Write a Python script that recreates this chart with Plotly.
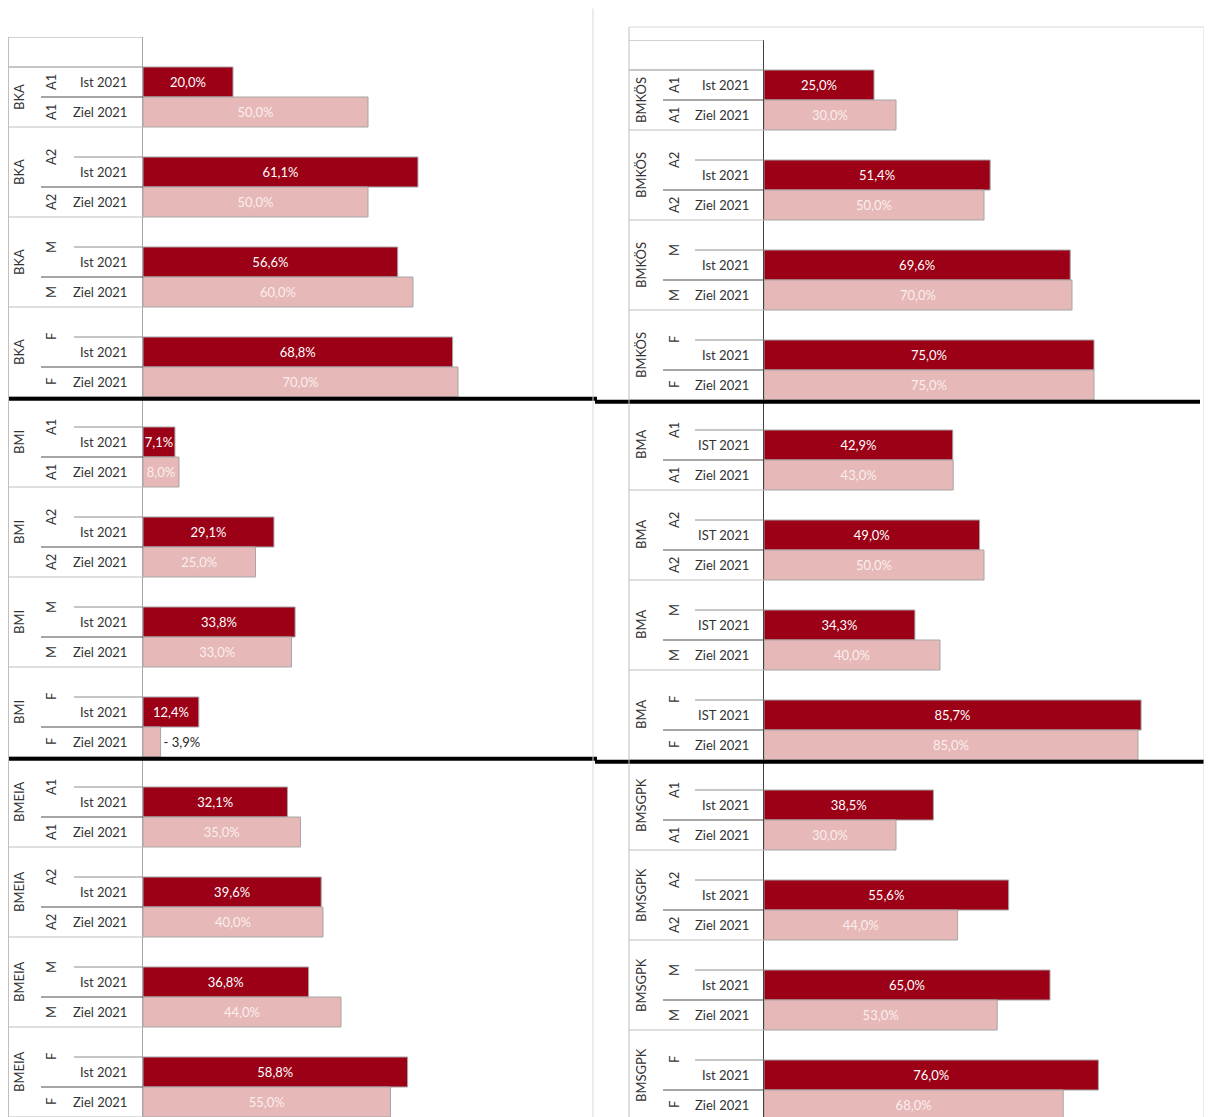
import plotly.graph_objects as go

# The page puts the figure at an 8px offset; the figure is sized to fill the rest of the window.
OFF = 8
W, H = 1212 - OFF, 1117 - OFF

# ---------------- data ----------------
levels = ["A1", "A2", "M", "F"]
ministries_left = ["BKA", "BMI", "BMEIA"]
ministries_right = ["BMKÖS", "BMA", "BMSGPK"]
ist_names_left = ["Ist 2021", "Ist 2021", "Ist 2021"]
ist_names_right = ["Ist 2021", "IST 2021", "Ist 2021"]
ziel_name = "Ziel 2021"

ist_left = [20.0, 61.1, 56.6, 68.8, 7.1, 29.1, 33.8, 12.4, 32.1, 39.6, 36.8, 58.8]
ziel_left = [50.0, 50.0, 60.0, 70.0, 8.0, 25.0, 33.0, 3.9, 35.0, 40.0, 44.0, 55.0]
ist_right = [25.0, 51.4, 69.6, 75.0, 42.9, 49.0, 34.3, 85.7, 38.5, 55.6, 65.0, 76.0]
ziel_right = [30.0, 50.0, 70.0, 75.0, 43.0, 50.0, 40.0, 85.0, 30.0, 44.0, 53.0, 68.0]

IST_COLOR = "#9B0016"
ZIEL_COLOR = "#E6B8B7"
FONT = "Lato"
TXT = "#333333"


def px(x):
    return (x - OFF) / W


def py(y):
    return 1 - (y - OFF) / H


def fmt(v):
    return f"{v:.1f}".replace(".", ",") + "%"


columns = [
    dict(xa="x", ya="y", ministries=ministries_left, ist_names=ist_names_left,
         ist=ist_left, ziel=ziel_left,
         x_left=8.5, x_min=19, x_lvl=51, x_txt=129, x_ziel_line=41, x_ist_line=74, x_axis=143,
         thick=[(8, 597), (8, 597)]),
    dict(xa="x2", ya="y2", ministries=ministries_right, ist_names=ist_names_right,
         ist=ist_right, ziel=ziel_right,
         x_left=629, x_min=641, x_lvl=674, x_txt=751, x_ziel_line=663, x_ist_line=695, x_axis=764,
         thick=[(595, 1200), (595, 1212)]),
]

fig = go.Figure()
annotations = []
shapes = []

for col in columns:
    n = len(col["ist"])
    y_ist = [3 * g + 1.5 for g in range(n)]
    y_ziel = [3 * g + 2.5 for g in range(n)]
    fig.add_trace(go.Bar(
        x=col["ist"], y=y_ist, orientation="h", width=1,
        marker=dict(color=IST_COLOR, line=dict(color="#a6a6a6", width=1)),
        text=[fmt(v) for v in col["ist"]], textposition="inside",
        insidetextanchor="middle", constraintext="none",
        insidetextfont=dict(family=FONT, size=13, color="white"),
        xaxis=col["xa"], yaxis=col["ya"], showlegend=False, cliponaxis=False,
        hoverinfo="skip"))
    ziel_pos = ["outside" if v < 5 else "inside" for v in col["ziel"]]
    ziel_txt = [("- " + fmt(v)) if v < 5 else fmt(v) for v in col["ziel"]]
    fig.add_trace(go.Bar(
        x=col["ziel"], y=y_ziel, orientation="h", width=1,
        marker=dict(color=ZIEL_COLOR, line=dict(color="#a6a6a6", width=1)),
        text=ziel_txt, textposition=ziel_pos,
        insidetextanchor="middle", constraintext="none",
        insidetextfont=dict(family=FONT, size=13, color="#fbeeee"),
        outsidetextfont=dict(family=FONT, size=13, color="#262626"),
        xaxis=col["xa"], yaxis=col["ya"], showlegend=False, cliponaxis=False,
        hoverinfo="skip"))

    yref = col["ya"]
    shapes.append(dict(type="line", xref="paper", yref=yref, x0=px(col["x_left"]), x1=px(col["x_axis"]),
                       y0=0, y1=0, line=dict(color="#a6a6a6", width=1)))
    for m, mname in enumerate(col["ministries"]):
        for l, lvl in enumerate(levels):
            g = m * len(levels) + l
            first = g == 0
            annotations.append(dict(
                text=mname, xref="paper", yref=yref, x=px(col["x_min"]),
                y=3 * g + (2.0 if first else 1.5), textangle=-90, showarrow=False,
                xanchor="center", yanchor="middle", font=dict(family=FONT, size=13, color=TXT)))
            annotations.append(dict(
                text=lvl, xref="paper", yref=yref, x=px(col["x_lvl"]),
                y=3 * g + (1.5 if first else 1.0), textangle=-90, showarrow=False,
                xanchor="center", yanchor="middle", font=dict(family=FONT, size=13, color=TXT)))
            annotations.append(dict(
                text=lvl, xref="paper", yref=yref, x=px(col["x_lvl"]),
                y=3 * g + 2.5, textangle=-90, showarrow=False,
                xanchor="center", yanchor="middle", font=dict(family=FONT, size=13, color=TXT)))
            annotations.append(dict(
                text=col["ist_names"][m], xref="paper", yref=yref, x=px(col["x_txt"]),
                y=3 * g + 1.5, showarrow=False, xanchor="right", yanchor="middle",
                font=dict(family=FONT, size=13, color=TXT)))
            annotations.append(dict(
                text=ziel_name, xref="paper", yref=yref, x=px(col["x_txt"]),
                y=3 * g + 2.5, showarrow=False, xanchor="right", yanchor="middle",
                font=dict(family=FONT, size=13, color=TXT)))
            x0_ist = col["x_left"] if first else col["x_ist_line"]
            shapes.append(dict(type="line", xref="paper", yref=yref, x0=px(x0_ist),
                               x1=px(col["x_axis"]), y0=3 * g + 1, y1=3 * g + 1,
                               line=dict(color="#8c8c8c", width=1)))
            shapes.append(dict(type="line", xref="paper", yref=yref, x0=px(col["x_ziel_line"]),
                               x1=px(col["x_axis"]), y0=3 * g + 2, y1=3 * g + 2,
                               line=dict(color="#4d4d4d", width=1)))
            shapes.append(dict(type="line", xref="paper", yref=yref, x0=px(col["x_left"]),
                               x1=px(col["x_axis"]), y0=3 * g + 3, y1=3 * g + 3,
                               line=dict(color="#bfbfbf", width=1)))
    for k, (xa0, xa1) in enumerate(col["thick"]):
        yy = 12 * (k + 1)
        shapes.append(dict(type="line", xref="paper", yref=yref, x0=px(xa0), x1=px(xa1),
                           y0=yy + 0.06, y1=yy + 0.06, line=dict(color="black", width=4)))

# left border of left table
shapes.append(dict(type="line", xref="paper", yref="y", x0=px(8.5), x1=px(8.5), y0=0, y1=36,
                   line=dict(color="#bfbfbf", width=1)))
# right table border + frame
shapes.append(dict(type="line", xref="paper", yref="paper", x0=px(629), x1=px(629), y0=py(27), y1=0,
                   line=dict(color="#bfbfbf", width=1)))
shapes.append(dict(type="line", xref="paper", yref="paper", x0=px(629), x1=px(1204), y0=py(27), y1=py(27),
                   line=dict(color="#d9d9d9", width=1)))
shapes.append(dict(type="line", xref="paper", yref="paper", x0=px(1204), x1=px(1204), y0=py(27), y1=0,
                   line=dict(color="#d9d9d9", width=1)))
# column divider
shapes.append(dict(type="line", xref="paper", yref="paper", x0=px(593), x1=px(593), y0=py(8.5), y1=0,
                   line=dict(color="#d9d9d9", width=1)))

axis_common = dict(showgrid=False, zeroline=False, showticklabels=False, ticks="", fixedrange=True)

fig.update_layout(
    width=W, height=H,
    margin=dict(l=0, r=0, t=0, b=0),
    paper_bgcolor="white", plot_bgcolor="rgba(0,0,0,0)",
    barmode="overlay",
    xaxis=dict(domain=[px(143), px(593)], range=[0, 100], anchor="y", showline=False, **axis_common),
    yaxis=dict(domain=[0, py(37)], range=[36, 0], anchor="x", showline=True,
               linecolor="#a6a6a6", linewidth=1, **axis_common),
    xaxis2=dict(domain=[px(764), px(1204)], range=[0, 100], anchor="y2", showline=False, **axis_common),
    yaxis2=dict(domain=[0, py(40)], range=[35.9, 0], anchor="x2", showline=True,
                linecolor="#404040", linewidth=1, **axis_common),
    annotations=annotations,
    shapes=shapes,
    font=dict(family=FONT),
)

fig.write_html("out.html")
